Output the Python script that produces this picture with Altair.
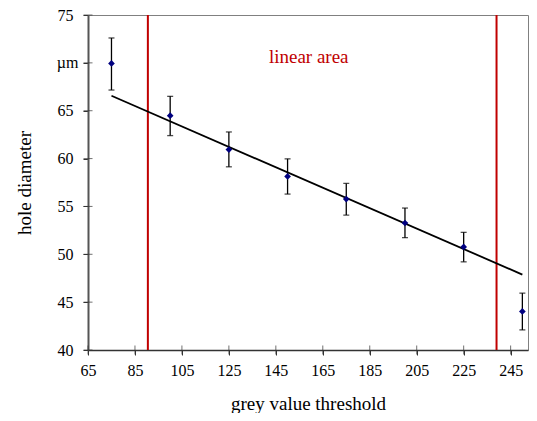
import altair as alt
import pandas as pd

# data
thresholds = [75, 100, 125, 150, 175, 200, 225, 250]
diameters = [69.94, 64.48, 60.94, 58.13, 55.77, 53.27, 50.77, 44.03]
err_top = [72.6, 66.5, 62.78, 59.97, 57.4, 54.83, 52.29, 45.94]
err_bottom = [67.16, 62.4, 59.14, 56.29, 54.1, 51.74, 49.21, 42.1]

fit_x = [75, 250]
fit_y = [66.56, 47.88]

limit_x = [90.5, 239]

label_x = [159]
label_y = [70.6]
label_text = ["linear area"]

unit_label = ["µm"]
unit_value = [70]

x_ticks = [65, 85, 105, 125, 145, 165, 185, 205, 225, 245]
y_ticks = [40, 45, 50, 55, 60, 65, 70, 75]
x_domain = [65, 252.4]
y_domain = [40, 75]

FONT = "Liberation Serif"
RED = "#C00000"
NAVY = "#000080"

pts = pd.DataFrame({"x": thresholds, "y": diameters, "lo": err_bottom, "hi": err_top})
fit = pd.DataFrame({"x": fit_x, "y": fit_y})
lim = pd.DataFrame({"x": limit_x})
lab = pd.DataFrame({"x": label_x, "y": label_y, "t": label_text})
unit = pd.DataFrame({"x": [x_domain[0]], "y": unit_value, "t": unit_label})
ytk = pd.DataFrame({"x": [x_domain[0]] * len(y_ticks), "y": y_ticks})
xtk = pd.DataFrame({"x": x_ticks, "y": [y_domain[0]] * len(x_ticks)})

xs = alt.Scale(domain=x_domain, nice=False, zero=False)
ys = alt.Scale(domain=y_domain, nice=False, zero=False)

xax = alt.Axis(values=x_ticks, title="grey value threshold", grid=False, labelFlush=False,
               tickSize=5, labelPadding=7.5, titlePadding=16,
               domainColor="#333333", tickColor="#333333", domainWidth=1.5)
yax = alt.Axis(values=y_ticks, title="hole diameter", grid=False, labelFlush=False,
               labelExpr="datum.value == 70 ? '' : datum.label",
               tickSize=5, labelPadding=10, titlePadding=23,
               domainColor="#555555", tickColor="#333333", domainWidth=2)

X = lambda f: alt.X(f, scale=xs, axis=xax)
Y = lambda f: alt.Y(f, scale=ys, axis=yax)

red_lines = alt.Chart(lim).mark_rule(color=RED, strokeWidth=2).encode(x=X("x:Q"))

fit_line = alt.Chart(fit).mark_line(color="black", strokeWidth=1.8).encode(x=X("x:Q"), y=Y("y:Q"))

bars = alt.Chart(pts).mark_rule(color="black", strokeWidth=1.3).encode(
    x=X("x:Q"), y=Y("lo:Q"), y2="hi:Q"
)
cap_top = alt.Chart(pts).mark_tick(color="black", orient="horizontal", size=6, thickness=1.3).encode(
    x=X("x:Q"), y=Y("hi:Q")
)
cap_bot = alt.Chart(pts).mark_tick(color="black", orient="horizontal", size=6, thickness=1.3).encode(
    x=X("x:Q"), y=Y("lo:Q")
)
points = alt.Chart(pts).mark_point(shape="diamond", filled=True, color=NAVY, size=45, opacity=1).encode(
    x=X("x:Q"), y=Y("y:Q")
)
text = alt.Chart(lab).mark_text(color=RED, font=FONT, fontSize=19, align="center", baseline="middle").encode(
    x=X("x:Q"), y=Y("y:Q"), text="t:N"
)
unit_text = alt.Chart(unit).mark_text(color="black", font=FONT, fontSize=16, align="right",
                                      baseline="middle", dx=-9.6).encode(
    x=X("x:Q"), y=Y("y:Q"), text="t:N"
)
y_cross = alt.Chart(ytk).mark_tick(color="#333333", orient="horizontal", size=9, thickness=1).encode(
    x=X("x:Q"), y=Y("y:Q")
)
x_cross = alt.Chart(xtk).mark_tick(color="#333333", orient="vertical", size=9, thickness=1).encode(
    x=X("x:Q"), y=Y("y:Q")
)

chart = alt.layer(red_lines, fit_line, bars, cap_top, cap_bot, points, text, unit_text,
                  y_cross, x_cross).properties(
    width=440, height=335,
    autosize=alt.AutoSizeParams(type="none"),
    padding={"left": 80, "top": 7, "right": 1, "bottom": 63},
).configure_view(
    stroke="#808080", strokeWidth=1
).configure_axis(
    labelFont=FONT, titleFont=FONT, labelFontSize=16, titleFontSize=19,
    labelColor="black", titleColor="black", titleFontWeight="normal",
)

chart.save("out.html", embed_options={"renderer": "svg", "actions": False})
